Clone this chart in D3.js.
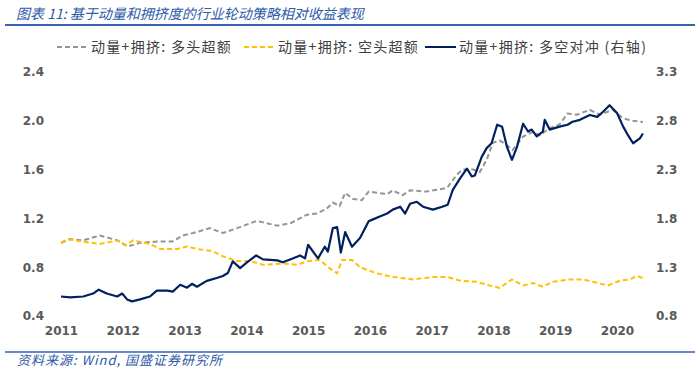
<!DOCTYPE html>
<html><head><meta charset="utf-8">
<script src="https://cdn.jsdelivr.net/npm/d3@7"></script>
<style>
html,body{margin:0;padding:0;background:#fff;}
svg{display:block;}
</style></head>
<body>
<svg id="c" width="700" height="371"></svg>
<script>
const titleText = "图表 11:  基于动量和拥挤度的行业轮动策略相对收益表现";
const sourceText = "资料来源:  Wind, 国盛证券研究所";
const seriesNames = ["动量+拥挤: 多头超额", "动量+拥挤: 空头超额", "动量+拥挤: 多空对冲 (右轴)"];
const xTicks = [2011, 2012, 2013, 2014, 2015, 2016, 2017, 2018, 2019, 2020];
const leftTicks = [0.4, 0.8, 1.2, 1.6, 2.0, 2.4];
const rightTicks = [0.8, 1.3, 1.8, 2.3, 2.8, 3.3];

// [decimal year, value]
const longExcess = [
 [2011.00,1.00],[2011.15,1.03],[2011.36,1.02],[2011.63,1.06],[2011.91,1.02],[2012.08,0.97],
 [2012.28,1.00],[2012.55,1.01],[2012.80,1.01],[2012.97,1.06],[2013.14,1.08],[2013.41,1.12],
 [2013.62,1.08],[2013.85,1.12],[2014.17,1.18],[2014.50,1.14],[2014.71,1.16],[2014.98,1.23],
 [2015.14,1.24],[2015.30,1.28],[2015.40,1.33],[2015.51,1.30],[2015.60,1.41],[2015.72,1.36],
 [2015.87,1.35],[2015.98,1.42],[2016.11,1.41],[2016.28,1.40],[2016.37,1.43],[2016.53,1.39],
 [2016.65,1.43],[2016.92,1.42],[2017.25,1.45],[2017.41,1.56],[2017.50,1.60],[2017.67,1.60],
 [2017.78,1.58],[2017.89,1.68],[2017.99,1.82],[2018.10,1.84],[2018.22,1.80],[2018.31,1.76],
 [2018.48,1.87],[2018.64,1.91],[2018.75,1.88],[2018.91,1.94],[2019.07,1.97],[2019.20,2.06],
 [2019.35,2.05],[2019.56,2.09],[2019.72,2.05],[2019.93,2.09],[2020.10,2.02],[2020.26,2.00],
 [2020.42,1.99]
];
const shortExcess = [
 [2011.00,1.00],[2011.10,1.03],[2011.36,1.01],[2011.63,0.99],[2011.91,1.02],[2012.04,0.98],
 [2012.17,1.02],[2012.44,0.99],[2012.60,0.95],[2012.88,0.95],[2013.04,0.97],[2013.20,0.95],
 [2013.46,0.93],[2013.62,0.89],[2013.85,0.85],[2014.06,0.85],[2014.27,0.82],[2014.59,0.83],
 [2014.82,0.82],[2015.00,0.85],[2015.19,0.86],[2015.35,0.79],[2015.47,0.75],[2015.55,0.86],
 [2015.71,0.86],[2015.84,0.80],[2016.00,0.77],[2016.11,0.75],[2016.37,0.72],[2016.70,0.70],
 [2017.02,0.72],[2017.25,0.72],[2017.46,0.69],[2017.73,0.68],[2017.94,0.65],[2018.10,0.63],
 [2018.30,0.70],[2018.48,0.65],[2018.64,0.67],[2018.80,0.64],[2018.96,0.68],[2019.24,0.70],
 [2019.45,0.70],[2019.61,0.68],[2019.85,0.65],[2020.05,0.69],[2020.21,0.70],[2020.32,0.73],
 [2020.42,0.71]
];
const hedge = [
 [2011.00,1.00],[2011.15,0.99],[2011.36,1.00],[2011.52,1.03],[2011.61,1.07],[2011.74,1.03],
 [2011.91,1.00],[2011.99,1.03],[2012.07,0.97],[2012.15,0.95],[2012.28,0.97],[2012.44,1.00],
 [2012.55,1.06],[2012.72,1.06],[2012.81,1.05],[2012.93,1.12],[2013.04,1.09],[2013.12,1.13],
 [2013.20,1.10],[2013.36,1.16],[2013.52,1.19],[2013.62,1.21],[2013.70,1.24],[2013.78,1.36],
 [2013.90,1.29],[2014.01,1.35],[2014.16,1.42],[2014.27,1.38],[2014.50,1.37],[2014.59,1.35],
 [2014.75,1.39],[2014.87,1.42],[2014.95,1.39],[2015.00,1.53],[2015.08,1.46],[2015.16,1.39],
 [2015.27,1.51],[2015.32,1.46],[2015.40,1.70],[2015.47,1.71],[2015.53,1.45],[2015.60,1.66],
 [2015.71,1.51],[2015.84,1.60],[2015.98,1.77],[2016.05,1.79],[2016.16,1.82],[2016.28,1.85],
 [2016.37,1.89],[2016.49,1.92],[2016.57,1.85],[2016.65,1.95],[2016.76,1.97],[2016.86,1.92],
 [2017.02,1.89],[2017.17,1.92],[2017.26,1.94],[2017.34,2.09],[2017.46,2.21],[2017.57,2.31],
 [2017.65,2.23],[2017.70,2.24],[2017.81,2.43],[2017.89,2.52],[2017.97,2.57],[2018.06,2.76],
 [2018.14,2.74],[2018.22,2.53],[2018.30,2.40],[2018.38,2.53],[2018.48,2.77],[2018.56,2.69],
 [2018.62,2.71],[2018.70,2.64],[2018.80,2.69],[2018.83,2.81],[2018.91,2.71],[2019.07,2.74],
 [2019.20,2.76],[2019.28,2.79],[2019.40,2.81],[2019.56,2.86],[2019.68,2.84],[2019.77,2.89],
 [2019.88,2.96],[2020.00,2.88],[2020.10,2.74],[2020.18,2.65],[2020.26,2.57],[2020.37,2.62],
 [2020.42,2.67]
];

const svg = d3.select("#c");
const blue = "#3563B4";
const axisFont = "'DejaVu Sans', Verdana, sans-serif";
const cjkFont = "'Noto Sans CJK SC', 'Noto Sans', sans-serif";

// title + rule
svg.append("text").attr("x", 16).attr("y", 19)
  .attr("font-family", cjkFont).attr("font-size", 14).attr("font-style", "italic")
  .attr("fill", "#2E5AA8").text(titleText);
svg.append("line").attr("x1", 5).attr("x2", 695).attr("y1", 25).attr("y2", 25)
  .attr("stroke", blue).attr("stroke-width", 2);

// footer
svg.append("line").attr("x1", 5).attr("x2", 695).attr("y1", 352).attr("y2", 352)
  .attr("stroke", blue).attr("stroke-width", 1.5);
svg.append("text").attr("x", 17).attr("y", 365)
  .attr("font-family", cjkFont).attr("font-size", 13).attr("font-style", "italic")
  .attr("letter-spacing", 1).attr("fill", "#2E5AA8").text(sourceText);

const x = d3.scaleLinear().domain([2011, 2020]).range([61, 617]);
const yL = d3.scaleLinear().domain([0.4, 2.4]).range([316, 72]);
const yR = d3.scaleLinear().domain([0.8, 3.3]).range([316, 72]);

// axes
const axL = svg.append("g").attr("transform", "translate(44,0)")
  .call(d3.axisLeft(yL).tickValues(leftTicks).tickSize(0).tickPadding(0).tickFormat(d3.format(".1f")));
const axR = svg.append("g").attr("transform", "translate(656,0)")
  .call(d3.axisRight(yR).tickValues(rightTicks).tickSize(0).tickPadding(0).tickFormat(d3.format(".1f")));
const axX = svg.append("g").attr("transform", "translate(0,326)")
  .call(d3.axisBottom(x).tickValues(xTicks).tickSize(0).tickPadding(0).tickFormat(d3.format("d")));
[axL, axR, axX].forEach(a => {
  a.select(".domain").remove();
  a.selectAll("text").attr("font-family", axisFont).attr("font-size", 12)
    .attr("font-weight", "bold").attr("fill", "#595959");
});
axX.selectAll("text").attr("dy", "0.71em");

// lines
const lineL = d3.line().x(d => x(d[0])).y(d => yL(d[1]));
const lineR = d3.line().x(d => x(d[0])).y(d => yR(d[1]));
svg.append("path").datum(longExcess).attr("d", lineL).attr("fill", "none")
  .attr("stroke", "#959595").attr("stroke-width", 2).attr("stroke-dasharray", "5,3");
svg.append("path").datum(shortExcess).attr("d", lineL).attr("fill", "none")
  .attr("stroke", "#FFC000").attr("stroke-width", 2).attr("stroke-dasharray", "5,3");
svg.append("path").datum(hedge).attr("d", lineR).attr("fill", "none")
  .attr("stroke", "#002060").attr("stroke-width", 2.2).attr("stroke-linejoin", "round");

// legend
const legend = [
  {name: seriesNames[0], color: "#959595", dash: "5,3", x0: 57},
  {name: seriesNames[1], color: "#FFC000", dash: "5,3", x0: 244},
  {name: seriesNames[2], color: "#002060", dash: null, x0: 425}
];
const lg = svg.append("g");
legend.forEach(l => {
  lg.append("line").attr("x1", l.x0).attr("x2", l.x0 + 31).attr("y1", 47).attr("y2", 47)
    .attr("stroke", l.color).attr("stroke-width", 2).attr("stroke-dasharray", l.dash);
  lg.append("text").attr("x", l.x0 + 34).attr("y", 52)
    .attr("font-family", cjkFont).attr("font-size", 14).attr("letter-spacing", 1.3)
    .attr("fill", "#404040").text(l.name);
});
</script>
</body></html>
